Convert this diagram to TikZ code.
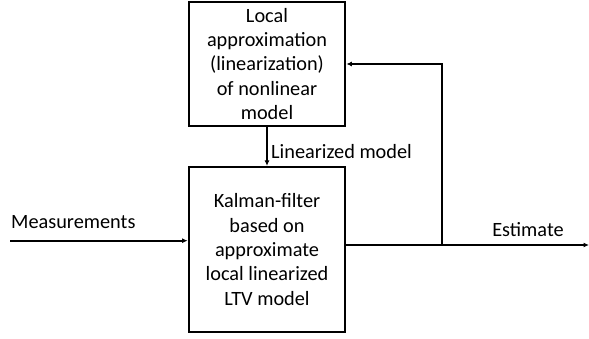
\documentclass[tikz,border=0pt]{standalone}
\usepackage{fontspec}
\setmainfont{Carlito}
\usetikzlibrary{arrows.meta}
\begin{document}
\begin{tikzpicture}[x=1pt,y=-1pt,
  box/.style={draw, line width=2.2pt, align=center, inner sep=0pt,
    font=\fontsize{20.3}{24.4}\selectfont},
  lbl/.style={font=\fontsize{20.3}{24.4}\selectfont, inner sep=0pt},
  arr/.style={line width=1.7pt, -{Latex[length=5.5pt,width=5pt]}},
  ln/.style={line width=1.7pt}]
\useasboundingbox (0,0) rectangle (589,339);
\node[box, minimum width=156.5pt, minimum height=124pt] (lin) at (267,64)
  {Local\\approximation\\(linearization)\\of nonlinear\\model};
\node[box, minimum width=156.5pt, minimum height=165pt] (kf) at (267,249.5)
  {Kalman-filter\\based on\\approximate\\local linearized\\LTV model};
\coordinate (min) at (10,240.7);
\coordinate (est) at (589,245);
\coordinate (br) at (442,245);
\coordinate (fb) at (442,64);
\draw[arr] (lin) -- (kf);
\node[lbl, anchor=west] (lm) at (271,152) {Linearized model};
\draw[arr] (min) -- (kf.west |- min);
\node[lbl, anchor=west] (meas) at (11,222) {Measurements};
\draw[arr] (kf.east |- est) -- (est);
\draw[arr] (br) -- (fb) -- (lin.east |- fb);
\node[lbl] (esttxt) at (528,230) {Estimate};
\end{tikzpicture}
\end{document}
